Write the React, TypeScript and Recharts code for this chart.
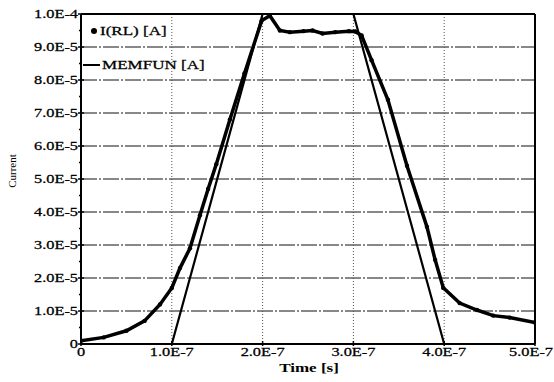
import React from 'react';
import { LineChart, Line, XAxis, YAxis, CartesianGrid, ReferenceLine } from 'recharts';

// Time [s] and current [A]
const memfunTime = [0, 1e-7, 2e-7, 3e-7, 4e-7, 5e-7];
const memfunCurrent = [0, 0, 1e-4, 1e-4, 0, 0];

const irlTime = [
  0, 0.25e-7, 0.5e-7, 0.7e-7, 0.87e-7, 1.0e-7, 1.09e-7, 1.2e-7, 1.31e-7, 1.4e-7,
  1.49e-7, 1.64e-7, 1.8e-7, 1.99e-7, 2.08e-7, 2.19e-7, 2.3e-7, 2.45e-7, 2.55e-7,
  2.66e-7, 2.8e-7, 2.95e-7, 3.02e-7, 3.09e-7, 3.2e-7, 3.38e-7, 3.59e-7, 3.81e-7,
  3.9e-7, 3.99e-7, 4.17e-7, 4.36e-7, 4.54e-7, 4.72e-7, 5.0e-7,
];
const irlCurrent = [
  0.1e-5, 0.2e-5, 0.4e-5, 0.7e-5, 1.2e-5, 1.7e-5, 2.3e-5, 2.9e-5, 3.9e-5, 4.7e-5,
  5.45e-5, 6.8e-5, 8.2e-5, 9.8e-5, 9.95e-5, 9.5e-5, 9.45e-5, 9.48e-5, 9.5e-5,
  9.41e-5, 9.45e-5, 9.48e-5, 9.47e-5, 9.35e-5, 8.6e-5, 7.4e-5, 5.4e-5, 3.55e-5,
  2.55e-5, 1.7e-5, 1.24e-5, 1.03e-5, 0.86e-5, 0.8e-5, 0.65e-5,
];

const timeTicks = [0, 1e-7, 2e-7, 3e-7, 4e-7, 5e-7];
const currentTicks = [0, 1e-5, 2e-5, 3e-5, 4e-5, 5e-5, 6e-5, 7e-5, 8e-5, 9e-5, 1e-4];
const minorCurrentTicks = [0.5e-5, 1.5e-5, 2.5e-5, 3.5e-5, 4.5e-5, 5.5e-5, 6.5e-5, 7.5e-5, 8.5e-5, 9.5e-5];

const memfunData = memfunTime.map((t, i) => ({ t, i: memfunCurrent[i] }));
const irlData = irlTime.map((t, i) => ({ t, i: irlCurrent[i] }));

const FONT = '"Liberation Serif", "Times New Roman", serif';
const STRETCH = 1.42;

const fmt = (v: number) => (v === 0 ? '0' : v.toExponential(1).toUpperCase());

const allYTicks = [...currentTicks, ...minorCurrentTicks].sort((a, b) => a - b);

function YTick({ x, y, payload }: any) {
  const v = payload.value;
  const major = Math.round(v / 0.5e-5) % 2 === 0;
  if (!major) {
    return <line x1={x - 2} x2={x} y1={y} y2={y} stroke="#000" strokeWidth={1.5} />;
  }
  return (
    <g>
      <line x1={x - 3} x2={x + 3} y1={y} y2={y} stroke="#000" strokeWidth={1.5} />
      <text
        transform={`translate(${x - 3},${y + 4}) scale(${STRETCH},1)`}
        textAnchor="end"
        fontSize={11.5}
        fontFamily={FONT}
        fill="#000"
        stroke="#000"
        strokeWidth={0.25}
      >
        {fmt(v)}
      </text>
    </g>
  );
}

function XTick({ x, y, payload, index }: any) {
  // last label is pushed back inside the page edge
  const last = index === timeTicks.length - 1;
  return (
    <g>
      <line x1={x} x2={x} y1={y - 3} y2={y + 2} stroke="#000" strokeWidth={1.5} />
      <text
        transform={`translate(${last ? 553 : x},${y + 12}) scale(${STRETCH},1)`}
        textAnchor={last ? 'end' : 'middle'}
        fontSize={11.5}
        fontFamily={FONT}
        fill="#000"
        stroke="#000"
        strokeWidth={0.25}
      >
        {fmt(payload.value)}
      </text>
    </g>
  );
}

export default function App() {
  return (
    <div style={{ position: 'absolute', left: 0, top: 0, width: 554, height: 382, background: '#fff' }}>
      <LineChart width={554} height={382} margin={{ top: 14, right: 19, bottom: 0, left: 0 }}>
        <CartesianGrid
          vertical={false}
          horizontalValues={currentTicks}
          stroke="#111"
          strokeDasharray="16 2 2 2"
        />
        <CartesianGrid
          horizontal={false}
          verticalValues={timeTicks}
          stroke="#555"
          strokeDasharray="1 2"
        />
        <XAxis
          type="number"
          dataKey="t"
          domain={[0, 5e-7]}
          ticks={timeTicks}
          tick={<XTick />}
          tickLine={false}
          tickSize={0}
          tickMargin={0}
          height={38}
          axisLine={{ stroke: '#000', strokeWidth: 2 }}
          allowDataOverflow
        />
        <YAxis
          type="number"
          domain={[0, 1e-4]}
          ticks={allYTicks}
          tick={<YTick />}
          tickLine={false}
          tickSize={0}
          tickMargin={0}
          width={81}
          interval={0}
          axisLine={{ stroke: '#000', strokeWidth: 2 }}
          allowDataOverflow
        />
        <ReferenceLine y={1e-4} stroke="#000" strokeWidth={2} />
        <ReferenceLine x={5e-7} stroke="#000" strokeWidth={2} />
        <Line
          data={memfunData}
          dataKey="i"
          type="linear"
          stroke="#000"
          strokeWidth={2.2}
          dot={false}
          isAnimationActive={false}
        />
        <Line
          data={irlData}
          dataKey="i"
          type="linear"
          stroke="#000"
          strokeWidth={3.5}
          dot={{ r: 2.2, fill: '#000', strokeWidth: 0 }}
          isAnimationActive={false}
        />
      </LineChart>
      <svg
        width={554}
        height={382}
        style={{ position: 'absolute', left: 0, top: 0, pointerEvents: 'none' }}
      >
        <text
          transform="translate(16,171) rotate(-90)"
          textAnchor="middle"
          fontSize={11}
          fontFamily={FONT}
          fill="#000"
        >
          Current
        </text>
        <text
          transform={`translate(309,372) scale(${STRETCH},1)`}
          textAnchor="middle"
          fontSize={12}
          fontWeight="bold"
          fontFamily={FONT}
          fill="#000"
        >
          Time [s]
        </text>
        <circle cx={94} cy={31} r={3} fill="#000" />
        <text
          transform={`translate(100,35) scale(${STRETCH},1)`}
          fontSize={12}
          fontFamily={FONT}
          fill="#000"
          stroke="#000"
          strokeWidth={0.25}
        >
          I(RL) [A]
        </text>
        <line x1={83} x2={100} y1={65} y2={65} stroke="#000" strokeWidth={2} />
        <text
          transform={`translate(102,69) scale(${STRETCH},1)`}
          fontSize={12}
          fontFamily={FONT}
          fill="#000"
          stroke="#000"
          strokeWidth={0.25}
        >
          MEMFUN [A]
        </text>
      </svg>
    </div>
  );
}
